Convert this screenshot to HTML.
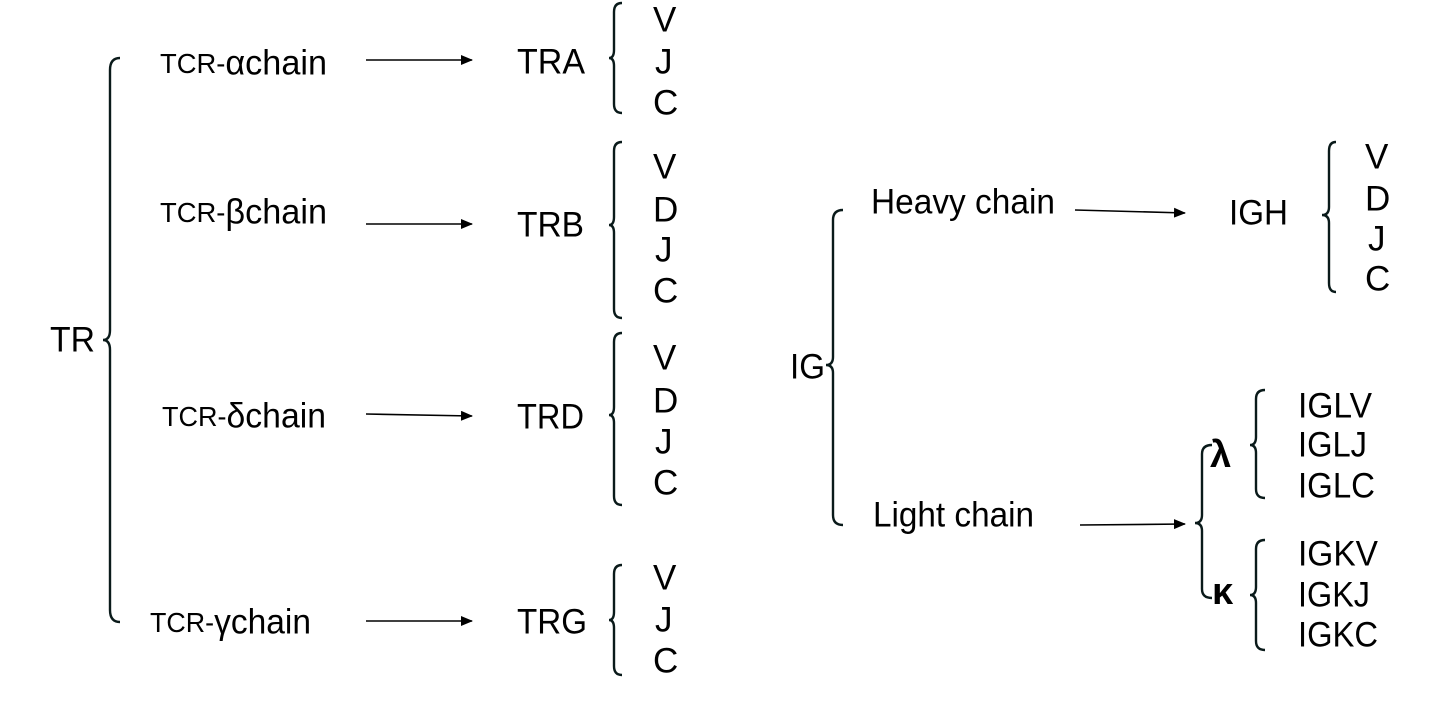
<!DOCTYPE html>
<html><head><meta charset="utf-8"><style>
html,body{margin:0;padding:0;background:#fff;}
svg{display:block;}
text{font-family:"Liberation Sans",Arial,sans-serif;font-size:35px;fill:#000;dominant-baseline:central;}
.s{font-size:28px;}
.g{font-size:38px;font-weight:bold;}
.b{fill:none;stroke:#0a1a1a;stroke-width:2.4;}
.a{stroke:#000;stroke-width:1.6;}
</style></head><body>
<svg width="1438" height="702" viewBox="0 0 1438 702" xmlns="http://www.w3.org/2000/svg">
<defs><marker id="ah" markerWidth="12" markerHeight="10" refX="11" refY="5" orient="auto" markerUnits="userSpaceOnUse"><path d="M0,0 L12,5 L0,10 z" fill="#000"/></marker></defs>
<g class="b">
<path d="M120,58 Q110,58 110,70 L110,330 Q110,340 103,340 Q110,340 110,350 L110,610 Q110,622 120,622"/>
<path d="M622,3 Q614,3 614,12 L614,50 Q614,58 609,58 Q614,58 614,66 L614,104 Q614,113 622,113"/>
<path d="M622,142 Q614,142 614,151 L614,217 Q614,225 609,225 Q614,225 614,233 L614,309 Q614,318 622,318"/>
<path d="M622,333 Q614,333 614,342 L614,407 Q614,415 609,415 Q614,415 614,423 L614,496 Q614,505 622,505"/>
<path d="M622,565 Q614,565 614,574 L614,612 Q614,620 609,620 Q614,620 614,628 L614,666 Q614,675 622,675"/>
<path d="M843,210 Q833,210 833,220 L833,357 Q833,365 826,365 Q833,365 833,373 L833,515 Q833,525 843,525"/>
<path d="M1336,142 Q1329,142 1329,151 L1329,207 Q1329,215 1322,215 Q1329,215 1329,223 L1329,283 Q1329,292 1336,292"/>
<path d="M1212,445 Q1202,445 1202,454 L1202,515 Q1202,523 1195,523 Q1202,523 1202,531 L1202,589 Q1202,598 1212,598"/>
<path d="M1265,390 Q1256,390 1256,399 L1256,437 Q1256,445 1250,445 Q1256,445 1256,453 L1256,489 Q1256,498 1265,498"/>
<path d="M1265,540 Q1256,540 1256,549 L1256,587 Q1256,595 1250,595 Q1256,595 1256,603 L1256,641 Q1256,650 1265,650"/>
</g>
<g class="a">
<line x1="366" y1="60" x2="472" y2="60" marker-end="url(#ah)"/>
<line x1="366" y1="224" x2="472" y2="224" marker-end="url(#ah)"/>
<line x1="366" y1="414" x2="472" y2="416" marker-end="url(#ah)"/>
<line x1="366" y1="621" x2="472" y2="621" marker-end="url(#ah)"/>
<line x1="1075" y1="210" x2="1185" y2="213" marker-end="url(#ah)"/>
<line x1="1080" y1="525" x2="1185" y2="524" marker-end="url(#ah)"/>
</g>
<text x="50" y="340" textLength="45" lengthAdjust="spacingAndGlyphs">TR</text>
<text x="160" y="63" textLength="167" lengthAdjust="spacingAndGlyphs"><tspan class="s">TCR-</tspan>αchain</text>
<text x="160" y="212" textLength="167" lengthAdjust="spacingAndGlyphs"><tspan class="s">TCR-</tspan>βchain</text>
<text x="162" y="416" textLength="164" lengthAdjust="spacingAndGlyphs"><tspan class="s">TCR-</tspan>δchain</text>
<text x="150" y="622" textLength="161" lengthAdjust="spacingAndGlyphs"><tspan class="s">TCR-</tspan>γchain</text>
<text x="517" y="62" textLength="68" lengthAdjust="spacingAndGlyphs">TRA</text>
<text x="517" y="225" textLength="67" lengthAdjust="spacingAndGlyphs">TRB</text>
<text x="517" y="417" textLength="67" lengthAdjust="spacingAndGlyphs">TRD</text>
<text x="517" y="622" textLength="70" lengthAdjust="spacingAndGlyphs">TRG</text>
<text x="653" y="20">V</text><text x="655" y="62">J</text><text x="653" y="103">C</text>
<text x="653" y="167">V</text><text x="653" y="210">D</text><text x="655" y="250">J</text><text x="653" y="291">C</text>
<text x="653" y="358">V</text><text x="653" y="401">D</text><text x="655" y="442">J</text><text x="653" y="483">C</text>
<text x="653" y="578">V</text><text x="655" y="620">J</text><text x="653" y="661">C</text>
<text x="790" y="367" textLength="35" lengthAdjust="spacingAndGlyphs">IG</text>
<text x="871" y="202" textLength="184" lengthAdjust="spacingAndGlyphs">Heavy chain</text>
<text x="873" y="515" textLength="161" lengthAdjust="spacingAndGlyphs">Light chain</text>
<text x="1229" y="213" textLength="59" lengthAdjust="spacingAndGlyphs">IGH</text>
<text x="1365" y="157">V</text><text x="1365" y="199">D</text><text x="1368" y="239">J</text><text x="1365" y="279">C</text>
<text class="g" x="1210" y="455">λ</text>
<text class="g" x="1212" y="592">κ</text>
<text x="1298" y="406" textLength="74" lengthAdjust="spacingAndGlyphs">IGLV</text>
<text x="1298" y="445" textLength="69" lengthAdjust="spacingAndGlyphs">IGLJ</text>
<text x="1298" y="486" textLength="77" lengthAdjust="spacingAndGlyphs">IGLC</text>
<text x="1298" y="554" textLength="80" lengthAdjust="spacingAndGlyphs">IGKV</text>
<text x="1298" y="595" textLength="72" lengthAdjust="spacingAndGlyphs">IGKJ</text>
<text x="1298" y="635" textLength="80" lengthAdjust="spacingAndGlyphs">IGKC</text>
</svg>
</body></html>
